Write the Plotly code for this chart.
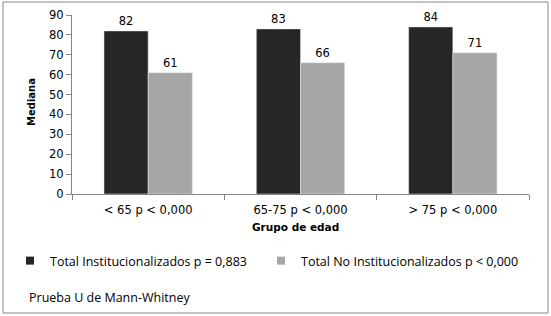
import plotly.graph_objects as go

categories = ["< 65 p < 0,000", "65-75 p < 0,000", "> 75 p < 0,000"]
inst_values = [82, 83, 84]
no_inst_values = [61, 66, 71]
series_names = ["Total Institucionalizados p = 0,883", "Total No Institucionalizados p < 0,000"]
series_colors = ["#262626", "#a6a6a6"]

L, R, T, B = 72, 22, 15, 122
W, H = 551, 316
pw, ph = W - L - R, H - T - B

def px_x(x):
    return (x - L) / pw

def px_y(y):
    return (H - B - y) / ph

fig = go.Figure()
for vals, name, col, leg in zip([inst_values, no_inst_values], series_names, series_colors,
                                ["legend", "legend2"]):
    fig.add_trace(go.Bar(x=categories, y=vals, name=name, marker_color=col,
                         text=vals, textposition="outside",
                         textfont=dict(family="DejaVu Sans", size=11.5, color="#000"),
                         cliponaxis=False, showlegend=False))
    # legend proxy with a small square symbol
    fig.add_trace(go.Scatter(x=[None], y=[None], mode="markers", name=name,
                             marker=dict(symbol="square", size=8, color=col),
                             legend=leg, hoverinfo="skip"))

leg_common = dict(orientation="h", yanchor="middle", xanchor="left",
                  font=dict(family="Open Sans", size=12.5, color="#000"),
                  itemwidth=30, bgcolor="rgba(0,0,0,0)")

fig.update_layout(
    width=W, height=H,
    margin=dict(l=L, r=R, t=T, b=B, autoexpand=False),
    paper_bgcolor="white", plot_bgcolor="white",
    barmode="group", bargap=0.42, bargroupgap=0,
    font=dict(family="DejaVu Sans", size=11, color="#000"),
    showlegend=True,
    legend=dict(x=px_x(10), y=px_y(261), **leg_common),
    legend2=dict(x=px_x(261), y=px_y(261), **leg_common),
    xaxis=dict(type="category", tickson="boundaries", ticks="outside", ticklen=5,
               tickcolor="#868686", showline=True, linecolor="#868686", linewidth=1,
               ticklabelstandoff=5,
               tickfont=dict(family="DejaVu Sans", size=11.5), showgrid=False, automargin=False),
    yaxis=dict(range=[0, 90], dtick=10, ticks="outside", ticklen=5, tickcolor="#868686",
               showline=True, linecolor="#868686", linewidth=1, showgrid=False,
               tickfont=dict(family="DejaVu Sans", size=11.5), zeroline=False, automargin=False),
)

fig.add_annotation(text="<b>Mediana</b>", xref="paper", yref="paper",
                   x=px_x(31), y=px_y(102), xanchor="center", yanchor="middle",
                   textangle=-90, showarrow=False,
                   font=dict(family="DejaVu Sans", size=10))
fig.add_annotation(text="<b>Grupo de edad</b>", xref="paper", yref="paper",
                   x=px_x(295), y=px_y(227), xanchor="center", yanchor="middle",
                   showarrow=False, font=dict(family="DejaVu Sans", size=10.5))
fig.add_annotation(text="Prueba U de Mann-Whitney", xref="paper", yref="paper",
                   x=px_x(27), y=px_y(297), xanchor="left", yanchor="middle",
                   showarrow=False, font=dict(family="Open Sans", size=12.5))
fig.add_shape(type="rect", xref="paper", yref="paper",
              x0=px_x(3), x1=px_x(548), y0=px_y(313), y1=px_y(2),
              line=dict(color="#868686", width=1), fillcolor="rgba(0,0,0,0)", layer="below")

fig.write_html("out.html", config={"displayModeBar": False},
               post_script="document.body.style.margin='0';")
